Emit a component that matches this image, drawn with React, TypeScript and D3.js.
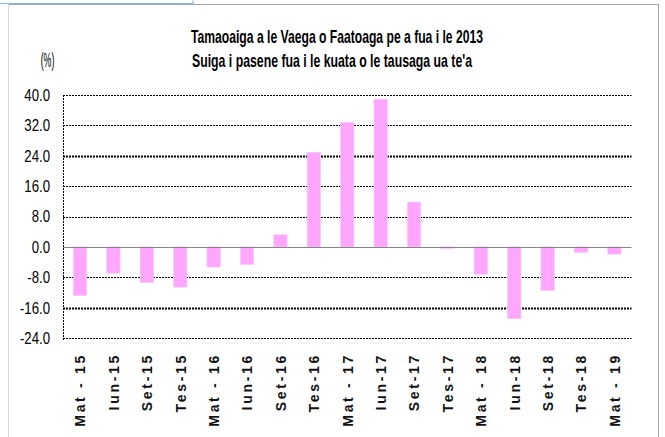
import React from "react";
import * as d3 from "d3";

const titleLines = [
  "Tamaoaiga a le Vaega o Faatoaga pe a fua i le 2013",
  "Suiga i pasene fua i le kuata o le tausaga ua te'a",
];
const unitLabel = "(%)";
const categories = [
  "Mat - 15", "Iun-15", "Set-15", "Tes-15",
  "Mat - 16", "Iun-16", "Set-16", "Tes-16",
  "Mat - 17", "Iun-17", "Set-17", "Tes-17",
  "Mat - 18", "Iun-18", "Set-18", "Tes-18",
  "Mat - 19",
];
const values = [
  -12.8, -6.9, -9.4, -10.6,
  -5.3, -4.6, 3.2, 24.9,
  32.8, 38.9, 11.8, -0.4,
  -7.2, -18.9, -11.5, -1.5,
  -1.9,
];
const yTicks = [-24, -16, -8, 0, 8, 16, 24, 32, 40];

const W = 665;
const H = 437;
const left = 63;
const right = 631.5;
const top = 95;
const bottom = 338;
const narrow = "'Liberation Sans Narrow', 'Arial Narrow', 'Liberation Sans', sans-serif";

export default function App() {
  const x = d3
    .scaleBand<string>()
    .domain(categories)
    .range([left, right])
    .paddingInner(0.6)
    .paddingOuter(0.31);
  const y = d3.scaleLinear().domain([-24, 40]).range([bottom, top]);

  return (
    <svg
      width={W}
      height={H}
      viewBox={`0 0 ${W} ${H}`}
      style={{ position: "absolute", left: 0, top: 0, background: "#fff" }}
    >
      <rect x={0} y={0} width={W} height={H} fill="#fff" />
      {/* chart frame */}
      <line x1={8} y1={4.5} x2={658} y2={4.5} stroke="#a6a6a6" strokeWidth={1} />
      <line x1={8.5} y1={4} x2={8.5} y2={H} stroke="#d9d9d9" strokeWidth={1} />
      <line x1={658.5} y1={4} x2={658.5} y2={H} stroke="#a6a6a6" strokeWidth={1} />
      {/* partial selection box at top-left */}
      <rect x={-2} y={-5} width={195} height={8.5} fill="#fff" stroke="#7fb6e3" strokeWidth={1} />

      {/* title */}
      {titleLines.map((t, i) => (
        <text
          key={i}
          x={i === 0 ? 337 : 332}
          y={i === 0 ? 42.5 : 66.5}
          textAnchor="middle"
          fontFamily={narrow}
          fontWeight="bold"
          fontSize={18.5}
          textLength={i === 0 ? 292 : 280}
          lengthAdjust="spacingAndGlyphs"
          fill="#000"
        >
          {t}
        </text>
      ))}
      <text
        transform="translate(47.5,67) scale(0.42,1)"
        textAnchor="middle"
        fontFamily={narrow}
        fontSize={21}
        fill="#000"
      >
        {unitLabel}
      </text>

      {/* gridlines */}
      {yTicks
        .filter((t) => t !== 0)
        .map((t) => (
          <line
            key={t}
            x1={left}
            x2={right}
            y1={Math.round(y(t)) + 0.5}
            y2={Math.round(y(t)) + 0.5}
            stroke="#000"
            strokeWidth={t === 24 || t === -16 ? 1.8 : 1}
            strokeDasharray="2,1"
          />
        ))}
      {/* left axis */}
      <line
        x1={left + 0.5}
        x2={left + 0.5}
        y1={top}
        y2={bottom + 2}
        stroke="#000"
        strokeWidth={1}
        strokeDasharray="2,1"
      />
      {/* y labels */}
      {yTicks.map((t) => (
        <text
          key={t}
          transform={`translate(50,${y(t)}) scale(0.8,1)`}
          dy="0.36em"
          textAnchor="end"
          fontFamily={narrow}
          fontSize={16.5}
          fill="#000"
        >
          {t.toFixed(1)}
        </text>
      ))}

      {/* bars */}
      {categories.map((c, i) => {
        const v = values[i];
        const y0 = y(0);
        const yv = y(v);
        return (
          <rect
            key={c}
            x={x(c)}
            y={Math.min(y0, yv)}
            width={x.bandwidth()}
            height={Math.abs(yv - y0)}
            fill="#ffa6ff"
            stroke="#ffc4ff"
            strokeWidth={0.6}
          />
        );
      })}
      {/* zero line */}
      <line
        x1={left}
        x2={right}
        y1={Math.round(y(0)) + 0.5}
        y2={Math.round(y(0)) + 0.5}
        stroke="#868686"
        strokeWidth={1}
      />

      {/* x labels */}
      {categories.map((c) => {
        const cx = (x(c) as number) + x.bandwidth() / 2;
        return (
          <text
            key={c}
            transform={`translate(${cx},353) rotate(-90)`}
            dy="0.38em"
            textAnchor="end"
            fontFamily="'Liberation Sans', Arial, sans-serif"
            fontWeight="bold"
            fontSize={14}
            letterSpacing={2.7}
            fill="#111"
            style={{ whiteSpace: "pre" }}
          >
            {c}
          </text>
        );
      })}
    </svg>
  );
}
